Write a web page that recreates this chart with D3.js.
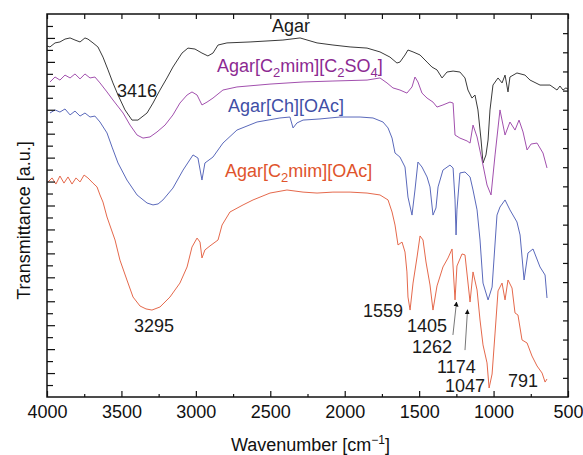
<!DOCTYPE html>
<html>
<head>
<meta charset="utf-8">
<script src="https://cdn.jsdelivr.net/npm/d3@7"></script>
<style>
  html, body { margin: 0; padding: 0; background: #fff; }
  svg { display: block; font-family: "Liberation Sans", Arial, Helvetica, sans-serif; }
</style>
</head>
<body>
<svg id="chart" width="583" height="455"></svg>
<script>
// ---------------- DATA (wavenumber cm^-1, transmittance a.u.) ----------------
const xTicks = [4000, 3500, 3000, 2500, 2000, 1500, 1000, 500];
const xMinorTicks = [3750, 3250, 2750, 2250, 1750, 1250, 750];

const agar = [
  [4000,18.33],[3980,18.28],[3946,18.49],[3913,18.54],[3879,18.69],[3845,18.75],[3812,18.64],
  [3778,18.54],[3745,18.75],[3725,18.69],[3691,18.49],[3658,18.28],[3624,17.75],[3590,17.08],
  [3557,16.40],[3523,15.77],[3476,14.99],[3429,14.46],[3389,14.46],[3328,14.83],[3288,15.35],
  [3241,16.03],[3194,16.66],[3154,17.23],[3093,17.96],[3053,18.22],[3006,18.17],[2959,17.96],
  [2919,17.81],[2885,17.96],[2851,18.38],[2791,18.49],[2636,18.54],[2415,18.64],[2300,18.75],
  [2186,18.49],[2079,18.38],[1964,18.28],[1850,18.22],[1763,18.02],[1696,17.75],[1649,17.44],
  [1629,17.49],[1595,17.86],[1575,18.12],[1541,18.02],[1494,17.86],[1447,17.49],[1414,17.23],
  [1380,17.08],[1346,16.66],[1313,16.97],[1272,17.02],[1226,16.97],[1192,16.66],[1172,16.03],
  [1145,15.61],[1125,15.77],[1105,14.99],[1084,13.42],[1071,12.22],[1051,12.64],[1037,13.42],
  [1024,14.99],[1004,16.29],[970,16.66],[943,16.40],[923,16.81],[903,15.93],[890,16.71],
  [843,16.92],[789,16.81],[755,16.55],[688,16.29],[621,16.29],[574,16.03],[554,16.24],
  [534,16.03],[514,16.14],[500,16.08]
];

const agarC2SO4 = [
  [3980,16.45],[3946,16.71],[3913,16.55],[3879,16.81],[3845,16.66],[3812,16.87],[3778,16.61],
  [3745,16.87],[3711,16.66],[3678,16.71],[3644,16.40],[3597,15.93],[3557,15.51],[3489,14.83],
  [3442,14.20],[3395,13.68],[3355,13.52],[3308,13.58],[3261,13.84],[3207,14.20],[3154,14.73],
  [3107,15.35],[3059,15.77],[3026,15.93],[2992,15.77],[2959,15.25],[2925,15.40],[2885,15.61],
  [2818,16.03],[2724,16.19],[2502,16.34],[2280,16.45],[2079,16.50],[1850,16.55],[1763,16.66],
  [1716,16.40],[1676,16.14],[1629,16.03],[1582,15.87],[1548,16.19],[1528,16.71],[1508,16.45],
  [1481,15.87],[1447,15.61],[1407,15.40],[1380,15.14],[1340,15.25],[1293,15.40],[1272,15.35],
  [1259,13.68],[1226,13.52],[1178,13.37],[1158,13.26],[1138,14.20],[1111,13.58],[1078,12.38],
  [1044,11.07],[1017,10.55],[990,12.64],[957,14.99],[923,13.68],[890,14.36],[856,13.94],
  [829,14.46],[802,13.84],[775,12.90],[748,13.21],[708,13.26],[668,12.74],[641,11.96]
];

const agarChOAc = [
  [3980,14.83],[3946,14.99],[3913,14.88],[3879,15.04],[3845,14.73],[3812,14.93],[3778,14.67],
  [3745,14.83],[3711,14.62],[3678,14.67],[3644,14.36],[3597,13.79],[3563,13.05],[3523,12.22],
  [3463,11.33],[3395,10.55],[3328,10.13],[3288,10.03],[3254,10.08],[3221,10.29],[3154,10.91],
  [3086,11.85],[3019,12.64],[2986,12.48],[2959,11.33],[2939,12.22],[2885,12.53],[2818,13.26],
  [2724,13.94],[2589,14.36],[2435,14.57],[2368,14.62],[2347,14.05],[2321,14.31],[2280,14.46],
  [2166,14.52],[2032,14.62],[1897,14.62],[1810,14.57],[1743,14.36],[1709,14.05],[1682,13.52],
  [1662,12.74],[1629,12.53],[1595,12.01],[1575,10.44],[1548,9.50],[1528,10.81],[1508,12.27],
  [1481,12.01],[1447,11.49],[1427,10.97],[1407,9.50],[1387,9.87],[1373,10.97],[1340,11.85],
  [1293,12.11],[1272,11.96],[1259,10.29],[1252,8.46],[1246,9.77],[1226,11.70],[1192,11.75],
  [1158,11.49],[1138,10.81],[1111,9.77],[1091,8.20],[1071,5.95],[1037,5.07],[1010,5.74],
  [977,9.50],[957,9.92],[923,10.29],[890,9.77],[843,9.14],[822,8.46],[795,6.11],[769,7.52],
  [735,7.73],[688,6.79],[654,6.37],[641,5.17]
];

const agarC2OAc = [
  [3993,11.23],[3966,11.44],[3940,11.12],[3913,11.54],[3886,11.17],[3859,11.49],[3832,11.12],
  [3805,11.44],[3778,11.23],[3751,11.59],[3725,11.44],[3691,11.17],[3664,10.97],[3644,10.55],
  [3624,10.18],[3597,9.40],[3543,8.20],[3510,7.15],[3463,6.11],[3422,5.22],[3375,4.75],
  [3335,4.60],[3295,4.54],[3241,4.70],[3174,5.22],[3107,5.95],[3059,6.79],[3026,7.83],
  [2992,8.30],[2972,8.09],[2959,7.26],[2939,7.68],[2905,7.89],[2851,8.20],[2824,8.98],
  [2771,9.66],[2683,10.03],[2616,10.29],[2502,10.65],[2388,10.81],[2280,10.70],[2186,10.65],
  [2079,10.70],[1964,10.70],[1850,10.65],[1763,10.55],[1709,10.29],[1682,9.66],[1662,8.98],
  [1642,7.94],[1615,8.09],[1595,7.57],[1582,6.53],[1575,5.22],[1561,4.54],[1541,5.95],
  [1514,7.31],[1494,8.41],[1474,8.20],[1454,7.05],[1427,5.85],[1407,4.54],[1380,5.80],
  [1340,6.79],[1306,7.26],[1279,7.73],[1259,5.07],[1246,6.84],[1212,7.47],[1192,7.42],
  [1158,4.96],[1138,6.53],[1111,5.59],[1091,4.02],[1071,2.72],[1044,1.78],[1030,0.47],
  [1010,1.20],[990,3.34],[970,5.54],[943,5.95],[923,5.07],[903,6.11],[876,5.69],[856,4.39],
  [836,4.28],[809,2.98],[775,2.82],[742,2.14],[708,1.62],[674,1.25],[654,0.78],[641,0.94]
];

const seriesNames = ["Agar", "Agar[C2mim][C2SO4]", "Agar[Ch][OAc]", "Agar[C2mim][OAc]"];
const seriesData = [agar, agarC2SO4, agarChOAc, agarC2OAc];
const lineColors = ["#3a3a3a", "#a250ae", "#5a69bb", "#e5694c"];
const labelColors = ["#1a1a1a", "#8c2a92", "#3f4fa6", "#e0542c"];
// label anchor (wavenumber, transmittance) of each series name
const labelPos = [[2488, 19.06], [2858, 16.97], [2784, 14.88], [2804, 11.49]];

// peak annotations: text, wavenumber, transmittance, anchor
const peakLabels = [
  ["3416", 3530, 15.67, "start"],
  ["3295", 3281, 3.39, "middle"],
  ["1559", 1608, 4.18, "end"],
  ["1405", 1582, 3.39, "start"],
  ["1262", 1548, 2.30, "start"],
  ["1174", 1380, 1.25, "start"],
  ["1047", 1326, 0.26, "start"],
  ["791", 903, 0.52, "start"]
];
// arrows: [from wn, from T, to wn, to T]
const peakArrows = [
  [1273, 3.24, 1249, 4.96],
  [1192, 2.45, 1175, 4.55]
];

// ---------------- CHART ----------------
const svg = d3.select("#chart");
const L = 47, R = 568, T = 14, B = 397;
const FS = 18;
const x = d3.scaleLinear().domain([4000, 500]).range([L, R]);
const y = d3.scaleLinear().domain([0, 20]).range([B, T]);
const yLeft = d3.scaleLinear().domain([0, 32]).range([B, T]);

svg.append("defs").append("marker")
  .attr("id", "ah").attr("viewBox", "0 0 10 10").attr("refX", 9).attr("refY", 5)
  .attr("markerWidth", 5).attr("markerHeight", 7).attr("orient", "auto")
  .append("path").attr("d", "M0,0 L10,5 L0,10 Z").attr("fill", "#111");

// lines
const line = d3.line().x(d => x(d[0])).y(d => y(d[1]));
seriesData.forEach((s, i) => {
  svg.append("path").datum(s).attr("d", line)
    .attr("fill", "none").attr("stroke", lineColors[i]).attr("stroke-width", 1)
    .attr("stroke-linejoin", "round");
});

// axes
function clean(g) { g.select(".domain").remove(); g.selectAll("line").attr("stroke", "#111").attr("stroke-width", 1.2); }
svg.append("g").attr("transform", `translate(0,${B})`)
  .call(d3.axisBottom(x).tickValues(xTicks).tickSizeInner(-6).tickSizeOuter(0).tickPadding(8).tickFormat(d3.format("d")))
  .call(clean)
  .call(g => g.selectAll("text").attr("font-size", 18).attr("fill", "#111").attr("font-family", "Liberation Sans, Arial, sans-serif"));
svg.append("g").attr("transform", `translate(0,${B})`)
  .call(d3.axisBottom(x).tickValues(xMinorTicks).tickSizeInner(-3).tickSizeOuter(0).tickFormat(""))
  .call(clean);
svg.append("g").attr("transform", `translate(0,${T})`)
  .call(d3.axisTop(x).tickValues(xTicks.concat(xMinorTicks)).tickSizeInner(-5).tickSizeOuter(0).tickFormat(""))
  .call(clean);
svg.append("g").attr("transform", `translate(${L},0)`)
  .call(d3.axisLeft(yLeft).tickValues(d3.range(2, 32, 2)).tickSizeInner(-8).tickSizeOuter(0).tickFormat(""))
  .call(clean);
svg.append("g").attr("transform", `translate(${L},0)`)
  .call(d3.axisLeft(yLeft).tickValues(d3.range(1, 32, 2)).tickSizeInner(-6).tickSizeOuter(0).tickFormat(""))
  .call(clean);
svg.append("g").attr("transform", `translate(${R},0)`)
  .call(d3.axisRight(y).tickValues(d3.range(1, 20)).tickSizeInner(-5).tickSizeOuter(0).tickFormat(""))
  .call(clean);

// frame
svg.append("rect").attr("x", L).attr("y", T).attr("width", R - L).attr("height", B - T)
  .attr("fill", "none").attr("stroke", "#111").attr("stroke-width", 1.5);

// series labels with subscripts
function richText(g, name) {
  const tokens = name.match(/C2|SO4|[^CS]+|[CS]/g);
  let pendingDy = 0;
  tokens.forEach(tk => {
    let main = tk, sub = null;
    if (tk === "C2") { main = "C"; sub = "2"; }
    if (tk === "SO4") { main = "SO"; sub = "4"; }
    const t1 = g.append("tspan").text(main);
    if (pendingDy) { t1.attr("dy", pendingDy); pendingDy = 0; }
    if (sub) {
      g.append("tspan").attr("font-size", 13).attr("dy", 5).text(sub);
      pendingDy = -5;
    }
  });
}
seriesNames.forEach((n, i) => {
  const t = svg.append("text").attr("x", x(labelPos[i][0])).attr("y", y(labelPos[i][1]))
    .attr("font-size", FS).attr("fill", labelColors[i]);
  richText(t, n);
});

// peak labels
peakLabels.forEach(p => {
  svg.append("text").attr("x", x(p[1])).attr("y", y(p[2])).attr("text-anchor", p[3])
    .attr("font-size", FS).attr("fill", "#1a1a1a").text(p[0]);
});
peakArrows.forEach(a => {
  svg.append("line").attr("x1", x(a[0])).attr("y1", y(a[1])).attr("x2", x(a[2])).attr("y2", y(a[3]))
    .attr("stroke", "#777").attr("stroke-width", 1).attr("marker-end", "url(#ah)");
});

// axis titles
const xt = svg.append("text").attr("x", (L + R) / 2 + 3).attr("y", 451).attr("text-anchor", "middle")
  .attr("font-size", FS).attr("fill", "#111");
xt.append("tspan").text("Wavenumber [cm");
xt.append("tspan").attr("font-size", 12).attr("dy", -7).text("\u22121");
xt.append("tspan").attr("dy", 7).text("]");

svg.append("text").attr("transform", `translate(30,${(T + B) / 2 + 15}) rotate(-90)`)
  .attr("text-anchor", "middle").attr("font-size", FS).attr("fill", "#111")
  .text("Transmittance [a.u.]");
</script>
</body>
</html>
